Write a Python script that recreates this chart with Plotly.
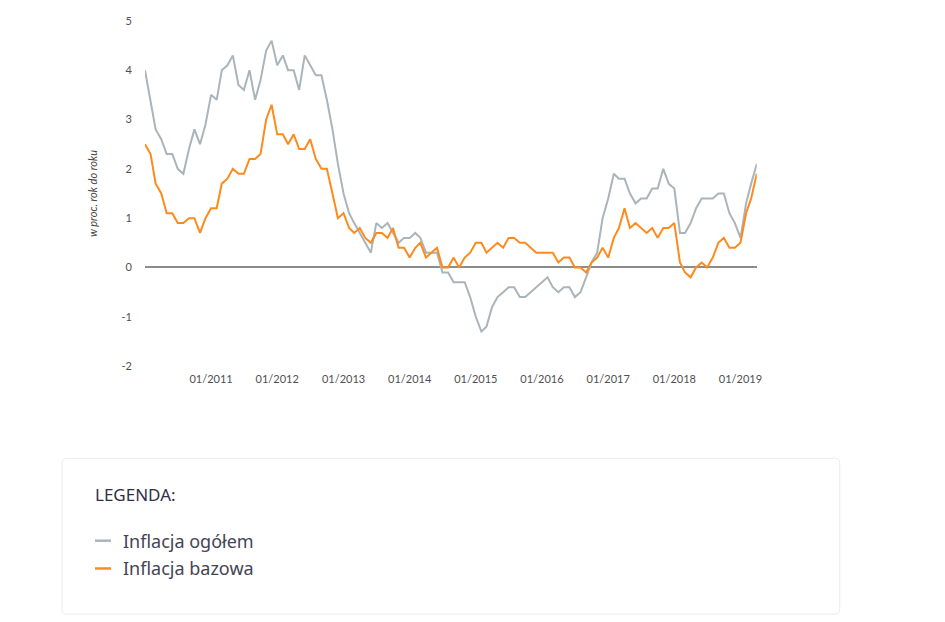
import pandas as pd
import plotly.graph_objects as go

# monthly, y/y in %, 01/2010 .. 04/2019
months = pd.date_range("2010-01-01", "2019-04-01", freq="MS")

inflacja_ogolem = [
    4.0, 3.4, 2.8, 2.6, 2.3, 2.3, 2.0, 1.9, 2.4, 2.8, 2.5, 2.9,
    3.5, 3.4, 4.0, 4.1, 4.3, 3.7, 3.6, 4.0, 3.4, 3.8, 4.4, 4.6,
    4.1, 4.3, 4.0, 4.0, 3.6, 4.3, 4.1, 3.9, 3.9, 3.4, 2.8, 2.1,
    1.5, 1.1, 0.9, 0.7, 0.5, 0.3, 0.9, 0.8, 0.9, 0.7, 0.5, 0.6,
    0.6, 0.7, 0.6, 0.3, 0.3, 0.3, -0.1, -0.1, -0.3, -0.3, -0.3, -0.6,
    -1.0, -1.3, -1.2, -0.8, -0.6, -0.5, -0.4, -0.4, -0.6, -0.6, -0.5, -0.4,
    -0.3, -0.2, -0.4, -0.5, -0.4, -0.4, -0.6, -0.5, -0.2, 0.1, 0.3, 1.0,
    1.4, 1.9, 1.8, 1.8, 1.5, 1.3, 1.4, 1.4, 1.6, 1.6, 2.0, 1.7,
    1.6, 0.7, 0.7, 0.9, 1.2, 1.4, 1.4, 1.4, 1.5, 1.5, 1.1, 0.9,
    0.6, 1.3, 1.7, 2.1,
]

inflacja_bazowa = [
    2.5, 2.3, 1.7, 1.5, 1.1, 1.1, 0.9, 0.9, 1.0, 1.0, 0.7, 1.0,
    1.2, 1.2, 1.7, 1.8, 2.0, 1.9, 1.9, 2.2, 2.2, 2.3, 3.0, 3.3,
    2.7, 2.7, 2.5, 2.7, 2.4, 2.4, 2.6, 2.2, 2.0, 2.0, 1.5, 1.0,
    1.1, 0.8, 0.7, 0.8, 0.6, 0.5, 0.7, 0.7, 0.6, 0.8, 0.4, 0.4,
    0.2, 0.4, 0.5, 0.2, 0.3, 0.4, 0.0, 0.0, 0.2, 0.0, 0.2, 0.3,
    0.5, 0.5, 0.3, 0.4, 0.5, 0.4, 0.6, 0.6, 0.5, 0.5, 0.4, 0.3,
    0.3, 0.3, 0.3, 0.1, 0.2, 0.2, 0.0, 0.0, -0.1, 0.1, 0.2, 0.4,
    0.2, 0.6, 0.8, 1.2, 0.8, 0.9, 0.8, 0.7, 0.8, 0.6, 0.8, 0.8,
    0.9, 0.1, -0.1, -0.2, 0.0, 0.1, 0.0, 0.2, 0.5, 0.6, 0.4, 0.4,
    0.5, 1.1, 1.4, 1.9,
]

x_ticks = pd.date_range("2011-01-01", "2019-01-01", freq="YS")
x_labels = [d.strftime("%m/%Y") for d in x_ticks]
y_ticks = [-2, -1, 0, 1, 2, 3, 4, 5]

series = [
    ("Inflacja ogółem", inflacja_ogolem, "#aab4bb"),
    ("Inflacja bazowa", inflacja_bazowa, "#ff8a1c"),
]

W, H = 945, 622
# the photographed page comes out slightly shrunk, so stretch pixel targets a bit
SX, SY = 1 / 0.995, 1 / 0.987


def px(x):
    return x * SX / W


def py(y):
    return 1 - y * SY / H


fig = go.Figure()

for name, vals, color in series:
    fig.add_trace(go.Scatter(x=months, y=vals, name=name, mode="lines",
                             line=dict(color=color, width=2), showlegend=False))

fig.update_layout(
    width=W, height=H,
    margin=dict(l=0, r=0, t=0, b=0),
    paper_bgcolor="white", plot_bgcolor="white",
    font=dict(family="Lato", color="#505050", size=11),
    xaxis=dict(domain=[px(145), px(757)], range=[months[0], months[-1]],
               tickvals=x_ticks, ticktext=x_labels, showgrid=False,
               zeroline=False, showline=False, ticks="", ticklabelstandoff=5),
    yaxis=dict(domain=[py(362), py(14)], range=[-2, 5],
               tickvals=y_ticks, ticktext=[str(v) for v in y_ticks],
               showgrid=False, zeroline=True, zerolinecolor="#8c8c8c",
               zerolinewidth=1.5, showline=False, ticks="", ticklabelstandoff=12,
               title=dict(text="<i>w proc. rok do roku</i>", font=dict(size=11, color="#444"),
                          standoff=21)),
)

# legend box below the chart
x0, x1, y0, y1 = px(62), px(840), py(612), py(455)
rx, ry = 5 / W, 5 / H
box = (f"M {x0 + rx},{y1} L {x1 - rx},{y1} Q {x1},{y1} {x1},{y1 - ry} "
       f"L {x1},{y0 + ry} Q {x1},{y0} {x1 - rx},{y0} L {x0 + rx},{y0} "
       f"Q {x0},{y0} {x0},{y0 + ry} L {x0},{y1 - ry} Q {x0},{y1} {x0 + rx},{y1} Z")
fig.add_shape(type="path", path=box, xref="paper", yref="paper",
              line=dict(color="#ececec", width=1), fillcolor="rgba(0,0,0,0)")

fig.add_annotation(text="LEGENDA:", xref="paper", yref="paper", x=px(93), y=py(491),
                   xanchor="left", yanchor="middle", showarrow=False,
                   font=dict(family="Noto Sans", size=17, color="#2f2f45"))

for k, (name, vals, color) in enumerate(series):
    yy = py(538 + 28 * k)
    fig.add_shape(type="line", xref="paper", yref="paper", x0=px(95), x1=px(111),
                  y0=yy, y1=yy, line=dict(color=color, width=2.5))
    fig.add_annotation(text=name, xref="paper", yref="paper", x=px(121), y=yy,
                       xanchor="left", yanchor="middle", showarrow=False,
                       font=dict(family="Noto Sans", size=18, color="#444455"))

fig.write_html("out.html", config={"displayModeBar": False},
               post_script="document.body.style.margin='0';document.body.style.overflow='hidden';")
